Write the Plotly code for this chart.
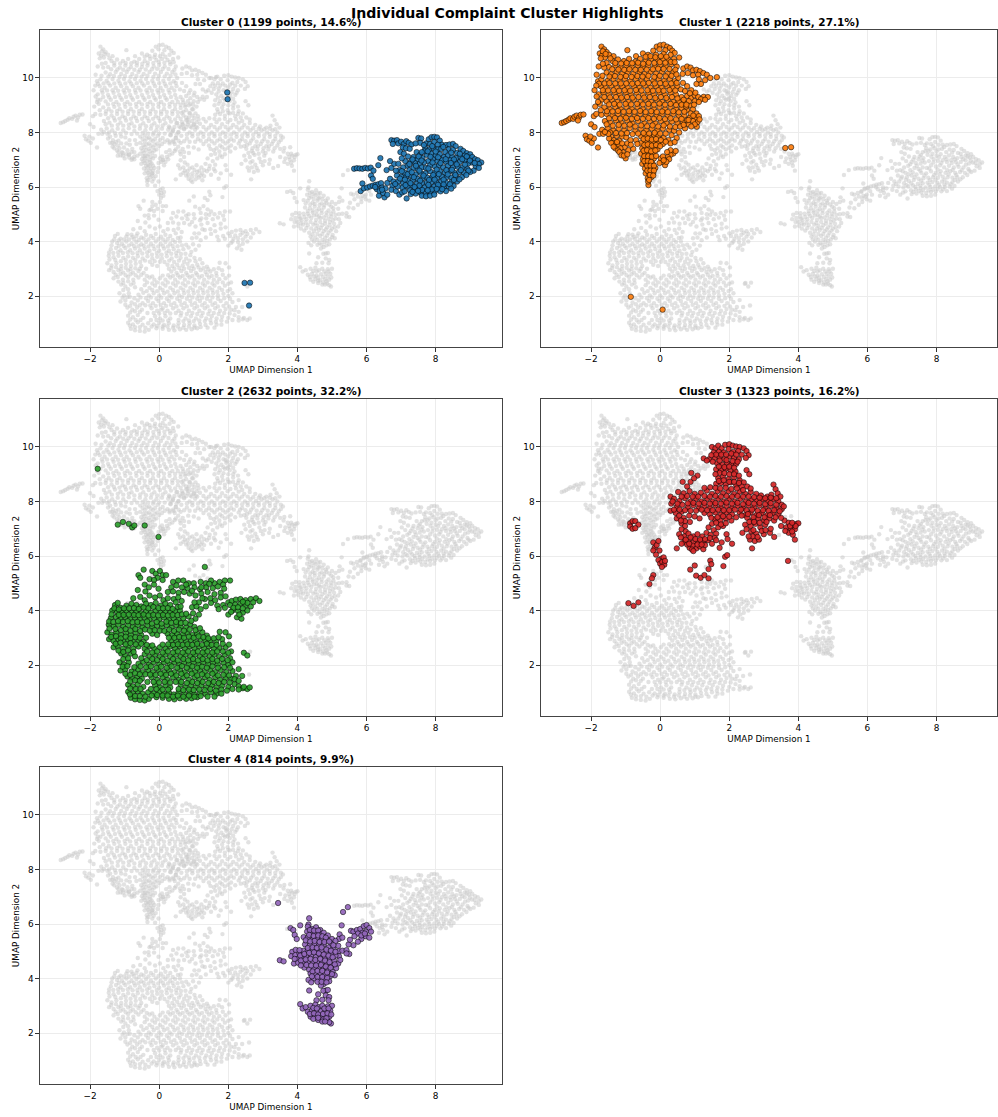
import plotly.graph_objects as go

titles = ["Cluster 0 (1199 points, 14.6%)", "Cluster 1 (2218 points, 27.1%)", "Cluster 2 (2632 points, 32.2%)",
          "Cluster 3 (1323 points, 16.2%)", "Cluster 4 (814 points, 9.9%)"]
colors = ["#1f77b4", "#ff7f0e", "#2ca02c", "#d62728", "#9467bd"]
x_ticks = [-2, 0, 2, 4, 6, 8]
y_ticks = [2, 4, 6, 8, 10]

cluster0 = [(1.97,9.47),(1.98,9.22),(2.47,2.48),(2.63,2.49),(2.6,1.65),
(5.64,6.67),(5.72,6.69),(5.8,6.68),(5.88,6.67),(5.96,6.7),(6.04,6.68),(6.12,6.71),(6.2,6.6),(6.34,6.8),(6.4,7.06),(6.13,6.42),(6.18,6.3),
(5.83,5.85),(5.88,6.13),(5.92,5.95),(6.02,5.98),(6.1,6.02),(6.18,6.05),(6.26,6.08),(6.34,6.1),(6.42,6.14),(6.3,5.92),(6.38,5.85),(6.45,5.98),(6.36,5.68),(6.52,5.62),(6.48,5.78),(6.55,5.95),(6.6,6.15),(6.68,6.3),(6.58,6.62),(6.72,6.7),(6.8,6.85),(6.68,6.95),(6.75,6.05),(6.78,6.2),(6.72,5.9),(6.85,5.85),(6.95,5.72),(7.16,5.58),(7.03,5.8),
(6.72,7.72),(6.8,7.7),(6.88,7.72),(6.76,7.58),(6.92,7.6),(7.0,7.66),(7.08,7.58),(7.15,7.68),(7.22,7.62),(7.3,7.56),(7.05,7.45),(7.14,7.42),(7.25,7.4),(6.98,7.28),(7.08,7.22),(7.5,7.8),(7.58,7.78),(7.55,7.62),(7.42,7.6),
(7.72,7.6),(7.8,7.75),(7.88,7.83),(7.96,7.84),(8.04,7.82),(8.12,7.7),(8.18,7.55),(7.84,7.58),(7.96,7.65),(8.06,7.55),(7.7,7.42),(7.82,7.38),(7.94,7.42),(8.06,7.38),(8.16,7.4),(8.3,7.54),(8.4,7.56),(8.5,7.58),(8.58,7.5),(8.38,7.38),(8.5,7.36),(8.28,7.28),(8.62,7.25),(8.72,7.4),(8.8,7.32),(8.9,7.24),(9.0,7.2),(8.84,7.15),(8.96,7.08),(9.06,7.1),(9.14,7.02),(9.22,6.98),(9.32,6.9),(9.25,6.84),(9.16,6.76),(9.25,6.7),(9.1,6.6),(9.0,6.55),(9.05,6.9),
(7.45,7.28),(7.55,7.18),(7.36,7.1),(7.48,7.02),(7.62,7.06),(7.74,7.18),(7.88,7.22),(8.0,7.15),(8.12,7.2),(8.24,7.1),(8.36,7.16),(8.48,7.1),(8.6,7.06),(8.72,7.1),(8.84,6.98),(8.94,6.86),(8.7,6.92),(8.56,6.92),(8.42,6.98),(8.3,6.92),(8.18,6.98),(8.04,6.96),(7.92,7.02),(7.78,6.95),(7.66,6.9),(7.54,6.86),(7.4,6.88),(7.28,6.92),(7.18,6.78),(7.06,6.72),(6.95,6.62),(7.1,6.52),(7.24,6.62),(7.36,6.7),(7.48,6.66),(7.6,6.72),(7.72,6.7),(7.84,6.8),(7.98,6.75),(8.1,6.8),(8.22,6.72),(8.36,6.78),(8.5,6.72),(8.64,6.74),(8.78,6.72),(8.92,6.66),(8.82,6.52),(8.68,6.55),(8.54,6.52),(8.4,6.58),(8.26,6.52),(8.12,6.58),(7.98,6.52),(7.84,6.58),(7.7,6.5),(7.56,6.52),(7.42,6.46),(7.28,6.42),(7.14,6.36),(7.0,6.38),(6.88,6.42),(6.92,6.2),(7.06,6.14),(7.2,6.22),(7.34,6.26),(7.48,6.3),(7.62,6.32),(7.76,6.34),(7.9,6.36),(8.04,6.34),(8.18,6.38),(8.32,6.36),(8.46,6.34),(8.6,6.36),(8.76,6.36),(8.62,6.2),(8.46,6.18),(8.3,6.16),(8.16,6.2),(8.02,6.16),(7.88,6.18),(7.74,6.16),(7.6,6.14),(7.46,6.12),(7.32,6.06),(7.18,6.02),(7.04,5.98),(6.9,6.02),(7.1,5.84),(7.26,5.88),(7.4,5.92),(7.54,5.96),(7.68,5.98),(7.82,6.0),(7.96,6.02),(8.1,6.0),(8.24,6.0),(8.38,6.02),(8.52,6.04),(8.3,5.85),(8.14,5.84),(7.98,5.84),(7.84,5.82),(7.7,5.78),(7.56,5.8),(7.42,5.76),(7.28,5.74),(7.6,5.68),(7.72,5.66),(7.84,5.68),(7.96,5.72),
(7.12,6.95),(7.33,7.01),(7.51,7.12),(7.68,7.31),(7.85,7.11),(8.07,7.09),(8.29,7.02),(8.53,7.01),(8.77,7.02),(8.99,6.97),(9.13,6.88),(8.85,6.82),(8.61,6.83),(8.44,6.88),(8.14,6.88),(7.91,6.9),(7.59,6.97),(7.43,6.78),(7.24,6.84),(7.02,6.58),(6.97,6.31),(7.19,6.47),(7.31,6.54),(7.53,6.6),(7.79,6.68),(8.03,6.64),(8.31,6.62),(8.47,6.63),(8.73,6.62),(8.95,6.6),(8.89,6.44),(8.57,6.44),(8.35,6.46),(8.09,6.47),(7.93,6.44),(7.65,6.42),(7.37,6.36),(7.11,6.27),(6.83,6.11),(7.13,6.07),(7.27,6.14),(7.55,6.23),(7.81,6.26),(7.97,6.27),(8.23,6.27),(8.53,6.26),(8.69,6.28),(8.41,6.1),(8.23,6.09),(8.07,6.08),(7.79,6.08),(7.53,6.05),(7.39,6.0),(7.61,5.89),(7.89,5.91),(8.03,5.93),(8.19,5.92),(8.45,5.94),(7.33,5.82),(7.49,5.86),(7.77,5.88),(7.66,7.54),(7.9,7.5),(8.0,7.3),(8.22,7.47),(7.77,7.31),(7.6,7.28),(8.45,7.26),(8.7,7.22),(8.9,7.12),(7.2,7.12),(7.02,7.05),(6.92,6.85),(6.85,6.6),(6.45,5.9),(6.25,6.0),(6.6,5.72)]

cluster1 = [(3.62,7.43),(3.79,7.46),(-0.85,1.97),(0.07,1.5),
(-2.85,8.35),(-2.78,8.38),(-2.72,8.42),(-2.65,8.47),(-2.6,8.52),(-2.52,8.5),(-2.48,8.58),(-2.42,8.62),(-2.35,8.55),(-2.3,8.65),(-2.22,8.66),(-2.38,8.44),
(-1.92,8.6),(-2.0,8.3),(-1.9,8.2),(-2.16,7.88),(-2.12,7.75),(-2.05,7.7),(-1.98,7.62),(-1.92,7.78),(-1.8,7.45),(-2.02,7.85),(-1.76,7.95),(-1.68,8.1),
(-1.7,11.15),(-1.62,11.05),(-1.55,10.95),(-1.75,10.9),(-1.68,10.82),(-1.6,10.75),(-1.48,10.85),(-1.35,10.8),(-0.95,11.02),(-0.7,10.8),(-0.5,10.9),(-0.35,10.85),(-0.2,11.0),(-0.1,11.15),(0.0,11.2),(0.1,11.22),(0.2,11.15),(0.28,11.1),(-0.02,11.05),(0.15,11.02),(0.35,11.0),(0.42,10.92),(0.55,10.75),(0.3,10.85),(0.1,10.88),(-0.12,10.85),
(-1.55,10.55),(-1.38,10.62),(-1.22,10.68),(-1.05,10.62),(-0.9,10.7),(-0.72,10.6),(-0.58,10.7),(-0.42,10.62),(-0.26,10.7),(-0.08,10.66),(0.08,10.7),(0.24,10.66),(0.4,10.7),
(-1.48,10.4),(-1.3,10.46),(-1.14,10.38),(-0.98,10.46),(-0.82,10.4),(-0.65,10.46),(-0.5,10.4),(-0.34,10.46),(-0.16,10.42),(0.0,10.48),(0.16,10.42),(0.32,10.5),(0.48,10.42),
(0.67,10.35),(0.78,10.42),(0.88,10.38),(0.95,10.28),(1.05,10.3),(1.15,10.25),(1.25,10.18),(1.35,10.12),(1.45,10.0),(1.64,10.03),(1.1,10.12),(0.95,10.1),(0.8,10.18),(0.65,10.15),(1.3,9.92),(1.18,9.78),(1.05,9.78),(1.12,9.95),
(-1.55,10.2),(-1.42,10.14),(-1.26,10.22),(-1.1,10.15),(-0.94,10.22),(-0.78,10.15),(-0.6,10.22),(-0.45,10.15),(-0.28,10.22),(-0.12,10.16),(0.05,10.22),(0.22,10.16),(0.38,10.22),(0.52,10.0),
(-1.8,9.88),(-1.7,9.95),(-1.52,9.9),(-1.35,9.96),(-1.18,9.9),(-1.02,9.96),(-0.86,9.88),(-0.7,9.96),(-0.54,9.9),(-0.38,9.96),(-0.2,9.9),(-0.04,9.96),(0.12,9.9),(0.28,9.96),(0.42,9.88),(0.66,9.82),(0.78,9.7),(0.9,9.55),
(-1.72,9.7),(-1.58,9.64),(-1.42,9.72),(-1.26,9.64),(-1.1,9.7),(-0.94,9.64),(-0.76,9.7),(-0.6,9.64),(-0.44,9.72),(-0.28,9.64),(-0.12,9.7),(0.04,9.64),(0.2,9.7),(0.36,9.64),(0.5,9.7),
(-1.78,9.4),(-1.64,9.46),(-1.48,9.38),(-1.32,9.46),(-1.16,9.38),(-1.0,9.46),(-0.84,9.38),(-0.68,9.46),(-0.5,9.38),(-0.34,9.46),(-0.18,9.38),(-0.02,9.46),(0.14,9.38),(0.3,9.46),(0.46,9.38),(0.62,9.3),(0.78,9.34),(0.9,9.26),(1.0,9.36),(1.1,9.3),(1.26,9.31),(1.18,9.22),(1.0,9.15),
(-1.7,9.2),(-1.55,9.14),(-1.4,9.2),(-1.24,9.12),(-1.08,9.2),(-0.92,9.12),(-0.76,9.2),(-0.58,9.12),(-0.42,9.2),(-0.26,9.12),(-0.1,9.2),(0.06,9.12),(0.22,9.2),(0.38,9.12),(0.54,9.12),(0.7,9.1),(0.86,9.0),
(-1.62,8.92),(-1.46,8.86),(-1.3,8.94),(-1.14,8.86),(-0.98,8.94),(-0.82,8.86),(-0.66,8.94),(-0.5,8.86),(-0.34,8.94),(-0.18,8.86),(-0.02,8.94),(0.14,8.86),(0.3,8.94),(0.46,8.86),(0.62,8.9),(0.78,8.82),(0.95,8.85),(1.05,8.7),
(-1.85,8.68),(-1.7,8.65),(-1.55,8.68),(-1.38,8.62),(-1.22,8.68),(-1.06,8.6),(-0.9,8.68),(-0.74,8.6),(-0.58,8.68),(-0.42,8.6),(-0.26,8.68),(-0.1,8.6),(0.06,8.68),(0.22,8.6),(0.38,8.68),(0.54,8.6),(0.7,8.62),(0.86,8.55),(1.02,8.52),(1.08,8.38),(1.06,8.21),
(-1.6,8.42),(-1.44,8.36),(-1.28,8.44),(-1.12,8.36),(-0.96,8.44),(-0.8,8.34),(-0.64,8.42),(-0.46,8.34),(-0.3,8.42),(-0.14,8.34),(0.02,8.42),(0.18,8.34),(0.34,8.4),(0.5,8.34),(0.66,8.38),(0.82,8.3),
(-1.52,8.15),(-1.36,8.08),(-1.2,8.14),(-1.04,8.08),(-0.88,8.16),(-0.72,8.06),(-0.56,8.14),(-0.4,8.08),(-0.24,8.14),(-0.08,8.08),(0.08,8.14),(0.26,8.1),(0.4,8.06),
(-1.42,7.85),(-1.34,7.72),(-1.26,7.88),(-1.18,7.7),(-1.1,7.85),(-0.98,7.82),(-1.3,7.58),(-1.2,7.52),(-1.1,7.6),(-1.02,7.45),(-1.3,7.42),(-1.0,7.05),(-0.92,7.35),(-1.08,7.28),(-0.78,7.4),(-0.7,7.72),(-0.55,7.85),(-0.42,7.9),(-0.3,7.82),(-0.18,7.92),(-0.05,7.88),(0.1,7.8),(0.24,7.72),(0.3,7.6),(0.38,7.23),(0.3,7.18),(0.22,7.1),(0.14,6.8),(0.06,6.92),(0.02,7.05),(-0.02,6.88),(0.12,7.0),
(-0.55,7.62),(-0.42,7.68),(-0.3,7.6),(-0.18,7.68),(-0.06,7.6),(0.08,7.58),(-0.52,7.42),(-0.42,7.46),(-0.3,7.4),(-0.18,7.45),(-0.08,7.38),(-0.55,7.22),(-0.44,7.25),(-0.32,7.2),(-0.2,7.25),(-0.5,7.02),(-0.4,7.05),(-0.28,7.0),(-0.18,7.05),(-0.52,6.85),(-0.42,6.88),(-0.32,6.82),(-0.22,6.86),(-0.44,6.68),(-0.34,6.72),(-0.24,6.68),(-0.14,6.7),(-0.42,6.5),(-0.32,6.52),(-0.2,6.5),(-0.36,6.32),(-0.26,6.36),(-0.34,6.07),(-0.35,6.2),
(-1.66,10.98),(-1.58,10.88),(-1.72,10.72),(-1.44,10.72),(-1.3,10.55),(-1.13,10.53),(-0.97,10.55),(-0.81,10.54),(-0.64,10.56),(-0.49,10.52),(-0.33,10.56),(-0.17,10.55),(-0.01,10.58),(0.15,10.56),(0.31,10.59),(-0.42,10.78),(-0.28,10.8),(-0.14,10.76),(0.02,10.8),(0.18,10.78),(0.42,10.58),(-1.62,10.38),(-1.39,10.32),(-1.21,10.31),(-1.04,10.3),(-0.89,10.32),(-0.72,10.3),(-0.56,10.3),(-0.39,10.31),(-0.21,10.32),(-0.06,10.34),(0.1,10.33),(0.27,10.33),(0.44,10.3),
(-1.67,10.08),(-1.47,10.05),(-1.31,10.07),(-1.15,10.04),(-0.99,10.07),(-0.83,10.04),(-0.66,10.07),(-0.51,10.05),(-0.34,10.08),(-0.17,10.04),(-0.01,10.08),(0.16,10.06),(0.33,10.08),(0.47,10.13),
(-1.77,9.79),(-1.61,9.8),(-1.47,9.81),(-1.3,9.8),(-1.14,9.8),(-0.98,9.8),(-0.81,9.79),(-0.65,9.81),(-0.49,9.8),(-0.33,9.82),(-0.16,9.8),(0.0,9.81),(0.16,9.79),(0.32,9.8),(0.48,9.82),(0.6,9.58),(0.72,9.52),(0.44,9.54),
(-1.66,9.55),(-1.51,9.54),(-1.35,9.55),(-1.19,9.53),(-1.03,9.55),(-0.87,9.53),(-0.7,9.56),(-0.54,9.54),(-0.37,9.55),(-0.21,9.53),(-0.05,9.55),(0.1,9.53),(0.27,9.56),
(-1.62,9.3),(-1.45,9.29),(-1.28,9.3),(-1.12,9.28),(-0.96,9.3),(-0.8,9.28),(-0.63,9.3),(-0.46,9.28),(-0.3,9.3),(-0.14,9.27),(0.02,9.3),(0.18,9.27),(0.34,9.3),(0.5,9.25),(0.68,9.2),(0.83,9.15),
(-1.75,9.05),(-1.48,9.03),(-1.33,9.05),(-1.17,9.02),(-1.0,9.05),(-0.84,9.03),(-0.67,9.05),(-0.5,9.03),(-0.34,9.05),(-0.18,9.02),(-0.02,9.06),(0.14,9.02),(0.3,9.05),(0.46,9.01),(0.62,9.02),(0.75,8.95),
(-1.54,8.78),(-1.38,8.77),(-1.22,8.79),(-1.06,8.76),(-0.9,8.78),(-0.74,8.76),(-0.58,8.79),(-0.42,8.75),(-0.26,8.78),(-0.1,8.75),(0.06,8.77),(0.22,8.75),(0.38,8.78),(0.54,8.74),(0.7,8.76),(0.88,8.7),
(-1.48,8.52),(-1.31,8.53),(-1.15,8.51),(-0.99,8.54),(-0.82,8.5),(-0.67,8.53),(-0.5,8.5),(-0.34,8.53),(-0.18,8.5),(-0.02,8.53),(0.14,8.49),(0.3,8.52),(0.46,8.48),(0.62,8.5),(0.78,8.45),(0.95,8.42),
(-1.55,8.3),(-1.37,8.25),(-1.2,8.28),(-1.04,8.25),(-0.88,8.29),(-0.72,8.22),(-0.55,8.26),(-0.38,8.23),(-0.22,8.26),(-0.06,8.22),(0.1,8.26),(0.28,8.22),(0.44,8.2),(0.58,8.22),(0.72,8.15),
(-1.45,8.0),(-1.28,7.98),(-1.12,7.96),(-0.96,7.98),(-0.8,7.94),(-0.64,7.96),(-0.48,7.98),(-0.32,7.96),(-0.16,7.99),(0.0,7.96),(0.16,7.96),(0.33,7.9),(-1.36,7.62),(-1.25,7.65),(-1.15,7.42),(-1.22,7.34),(-0.95,7.6),(-0.86,7.72),(-0.66,7.58),
(-0.48,7.76),(-0.36,7.78),(-0.24,7.74),(-0.12,7.76),(0.02,7.72),(0.16,7.66),(-0.46,7.54),(-0.36,7.56),(-0.24,7.52),(-0.12,7.54),(0.0,7.5),(-0.48,7.33),(-0.38,7.35),(-0.26,7.31),(-0.14,7.34),(-0.46,7.13),(-0.35,7.13),(-0.24,7.11),(-0.12,7.14),(-0.46,6.95),(-0.36,6.95),(-0.26,6.92),(-0.38,6.78),(-0.28,6.78),(-0.18,6.78),(-0.37,6.6),(-0.28,6.6),(-0.18,6.6),(-0.3,6.44),(-0.2,6.42),(-0.32,6.26),(0.26,7.02),(0.18,6.92),(0.08,7.12),
(-1.85,9.72),(-1.9,9.55),(-1.84,9.32),(-1.8,9.12),(-1.88,8.95),(-1.72,8.82),(-1.78,10.42),(-1.66,10.52),(-1.84,10.12),(-1.42,7.62),(-1.48,7.78),(-1.5,7.95),(-1.35,7.48),(-1.18,7.28),(-1.12,7.16),(-1.05,7.15),(-0.95,7.2),(-0.85,7.55),(-1.65,7.95),(-1.6,8.02),
(0.68,8.28),(0.82,8.46),(0.96,8.62),(1.12,8.6),(1.0,8.3),(0.9,8.22),(1.14,8.48),(0.76,9.02),(0.98,9.02),(1.12,9.12),(0.86,9.44),(1.02,9.46),(1.38,9.3),(1.3,9.2),(0.55,8.0),(0.48,7.8),(0.42,7.65),(0.3,7.35),(0.45,7.32),(0.2,7.28),(0.1,6.98)]

cluster2 = [(-1.78,9.2),(-1.2,7.15),(-1.05,7.25),(-0.88,7.18),(-0.78,7.05),(-0.72,7.12),(-0.42,7.12),(-0.02,6.7),
(-0.6,5.3),(-0.55,5.2),(-0.45,5.5),(-0.2,5.45),(-0.1,5.35),(0.02,5.45),(0.1,5.3),(0.2,5.3),(-0.05,5.2),(1.32,5.6),(-0.28,5.15),(-0.15,5.12),(0.1,5.12),
(0.4,5.05),(0.55,5.1),(0.7,5.1),(0.85,5.0),(1.0,5.0),(1.2,5.05),(1.35,5.0),(1.6,5.0),(1.75,5.05),(1.9,5.1),(2.05,5.1),(1.5,5.1),
(0.35,4.85),(0.5,4.92),(0.66,4.85),(0.82,4.82),(1.02,4.85),(1.18,4.78),(1.36,4.85),(1.55,4.82),(1.7,4.88),(1.85,4.95),(-0.42,4.95),(-0.3,4.85),(-0.15,4.95),(-0.02,4.8),(-0.62,4.75),(-0.4,4.7),
(0.25,4.68),(0.4,4.7),(0.56,4.65),(0.72,4.68),(0.88,4.62),(1.05,4.55),(1.22,4.62),(1.4,4.68),(1.6,4.6),(1.78,4.65),(-0.75,4.45),(-0.55,4.5),(-0.42,4.38),(-0.28,4.55),(-0.12,4.48),(0.02,4.55),(0.12,4.38),(0.25,4.45),(0.42,4.42),(0.55,4.48),(1.15,4.3),(1.32,4.42),(1.78,4.48),
(-1.28,4.2),(-1.2,4.28),(-1.12,4.1),(-0.95,4.18),(-0.8,4.25),(-0.66,4.2),(-0.52,4.15),(-0.38,4.25),(-0.24,4.2),(-0.1,4.28),(0.05,4.18),(0.18,4.25),(0.32,4.2),(0.48,4.3),(0.95,4.12),(1.08,4.15),(1.2,4.05),(1.35,4.15),(1.5,4.28),(1.68,4.18),(1.85,4.2),(2.0,4.3),(2.1,4.35),(2.22,4.4),(2.35,4.42),(2.5,4.38),(2.65,4.42),(2.8,4.45),(2.9,4.35),
(-1.36,4.0),(-1.22,3.95),(-1.08,3.92),(-0.95,4.0),(-0.8,3.92),(-0.66,3.98),(-0.52,3.9),(-0.38,3.98),(-0.24,3.92),(-0.1,4.0),(0.04,3.92),(0.18,3.98),(0.32,3.92),(0.46,3.98),(0.6,4.0),(0.98,3.9),(1.15,3.85),(1.72,4.05),(1.9,4.1),(2.05,4.2),(2.2,4.22),(2.35,4.25),(2.5,4.18),(2.65,4.15),
(-1.4,3.72),(-1.25,3.76),(-1.12,3.68),(-0.98,3.76),(-0.84,3.68),(-0.7,3.74),(-0.56,3.68),(-0.42,3.74),(-0.28,3.66),(-0.14,3.72),(0.0,3.66),(0.14,3.74),(0.28,3.66),(0.42,3.72),(0.56,3.66),(0.7,3.72),(0.85,3.78),(1.05,3.7),(2.0,3.85),(2.12,4.0),(2.28,3.98),(2.42,3.92),(2.55,4.0),(2.25,3.75),(2.38,3.7),
(-1.46,3.48),(-1.32,3.42),(-1.18,3.48),(-1.04,3.4),(-0.9,3.46),(-0.76,3.4),(-0.62,3.46),(-0.48,3.38),(-0.34,3.46),(-0.2,3.38),(-0.06,3.44),(0.08,3.38),(0.22,3.46),(0.36,3.38),(0.5,3.46),(0.62,3.4),(0.78,3.38),(0.9,3.5),(1.02,3.4),
(-1.5,3.2),(-1.38,3.12),(-1.24,3.2),(-1.1,3.1),(-0.96,3.18),(-0.82,3.1),(-0.68,3.18),(-0.52,3.1),(-0.2,3.15),(-0.06,3.1),(0.24,3.15),(0.38,3.1),(0.52,3.15),(0.68,3.12),(0.82,3.18),(0.96,3.1),(1.1,3.15),(1.25,3.2),(1.38,3.08),
(-1.45,2.95),(-1.32,2.88),(-1.18,2.95),(-1.04,2.86),(-0.9,2.94),(-0.76,2.86),(-0.6,2.92),(-0.45,2.85),(0.35,2.9),(0.5,2.85),(0.64,2.92),(0.78,2.85),(0.92,2.92),(1.06,2.85),(1.2,2.95),(1.34,2.88),(1.48,2.9),(1.65,2.85),(1.82,2.95),(1.92,3.2),(2.02,3.05),(1.75,3.22),
(-1.32,2.65),(-1.2,2.7),(-1.05,2.6),(-0.9,2.7),(-0.75,2.6),(-0.6,2.68),(-0.42,2.6),(-0.28,2.68),(-0.14,2.6),(0.02,2.65),(0.18,2.6),(0.32,2.68),(0.46,2.6),(0.6,2.68),(0.74,2.6),(0.88,2.68),(1.02,2.6),(1.16,2.68),(1.3,2.6),(1.44,2.68),(1.58,2.6),(1.74,2.62),(1.92,2.65),(2.08,2.5),(2.45,2.45),(2.55,2.35),
(-1.1,2.42),(-0.98,2.35),(-0.82,2.42),(-0.7,2.32),(-0.42,2.4),(-0.28,2.3),(-0.12,2.38),(0.02,2.3),(0.18,2.38),(0.32,2.3),(0.48,2.38),(0.62,2.3),(0.76,2.38),(0.9,2.3),(1.04,2.38),(1.18,2.3),(1.32,2.38),(1.46,2.3),(1.6,2.38),(1.74,2.3),(1.9,2.38),(2.05,2.25),
(-1.15,2.1),(-1.02,2.02),(-0.88,2.1),(-0.6,2.05),(-0.46,2.12),(-0.3,2.02),(-0.16,2.1),(0.0,2.02),(0.14,2.1),(0.3,2.02),(0.44,2.1),(0.58,2.02),(0.72,2.1),(0.86,2.02),(1.0,2.1),(1.14,2.02),(1.28,2.1),(1.42,2.02),(1.56,2.1),(1.7,2.02),(1.86,2.08),(2.0,2.0),(2.12,2.1),
(-1.12,1.8),(-0.98,1.84),(-0.8,1.76),(-0.62,1.84),(-0.48,1.74),(-0.32,1.82),(-0.18,1.74),(-0.02,1.82),(0.14,1.74),(0.28,1.82),(0.44,1.74),(0.6,1.82),(0.74,1.74),(0.9,1.82),(1.04,1.74),(1.18,1.82),(1.32,1.74),(1.48,1.82),(1.62,1.74),(1.78,1.82),(1.94,1.74),(2.12,1.78),(2.3,1.85),
(-0.92,1.58),(-0.78,1.5),(-0.64,1.58),(-0.5,1.5),(-0.22,1.55),(-0.06,1.46),(0.1,1.55),(0.24,1.46),(0.4,1.55),(0.56,1.46),(0.7,1.55),(0.86,1.46),(1.02,1.55),(1.16,1.46),(1.32,1.55),(1.46,1.46),(1.62,1.55),(1.76,1.46),(1.92,1.52),(2.08,1.5),(2.22,1.6),(2.4,1.6),
(-0.9,1.28),(-0.76,1.22),(-0.62,1.3),(-0.46,1.2),(-0.12,1.26),(0.02,1.18),(0.18,1.26),(0.32,1.18),(0.62,1.28),(0.76,1.18),(0.92,1.26),(1.06,1.18),(1.22,1.26),(1.36,1.18),(1.52,1.26),(1.66,1.18),(1.82,1.24),(2.0,1.2),(2.18,1.3),(2.3,1.22),(2.42,1.15),(2.55,1.12),(2.62,1.18),
(-0.9,1.02),(-0.76,0.96),(-0.62,1.04),(-0.48,0.95),(-0.32,1.0),(-0.16,0.96),(0.0,1.02),(0.14,0.94),(0.28,1.0),(0.42,0.92),(0.56,1.0),(0.72,0.94),(0.88,1.0),(1.02,0.92),(1.18,0.98),(1.34,0.94),(1.5,1.0),(1.66,0.95),(2.3,1.1),(2.45,1.2),
(-0.82,0.8),(-0.7,0.74),(-0.56,0.72),(-0.42,0.7),(-0.3,0.76),(-0.08,0.82),(0.1,0.8),(0.28,0.76),(0.44,0.74),(0.6,0.78),(0.78,0.76),(0.94,0.78),(1.1,0.82),
(-1.3,4.08),(-1.17,4.04),(-1.02,4.08),(-0.87,4.08),(-0.73,4.09),(-0.59,4.06),(-0.45,4.11),(-0.31,4.08),(-0.17,4.13),(-0.02,4.09),(0.11,4.08),(0.25,4.09),(0.39,4.06),(0.54,4.13),
(-1.38,3.86),(-1.17,3.84),(-1.03,3.84),(-0.88,3.85),(-0.73,3.84),(-0.6,3.83),(-0.45,3.85),(-0.31,3.82),(-0.17,3.84),(-0.03,3.82),(0.11,3.84),(0.25,3.82),(0.39,3.84),(0.53,3.83),(0.66,3.86),(0.78,3.88),
(-1.45,3.6),(-1.33,3.58),(-1.19,3.61),(-1.05,3.58),(-0.91,3.61),(-0.77,3.57),(-0.63,3.58),(-0.49,3.56),(-0.35,3.6),(-0.21,3.52),(-0.07,3.58),(0.07,3.52),(0.21,3.59),(0.35,3.55),(0.49,3.58),(0.63,3.54),(0.76,3.55),(0.93,3.62),
(-1.44,3.34),(-1.27,3.32),(-1.11,3.28),(-0.97,3.32),(-0.83,3.26),(-0.69,3.32),(-0.55,3.25),(-0.41,3.3),(-0.27,3.26),(-0.13,3.28),(0.02,3.26),(0.15,3.25),(0.29,3.3),(0.43,3.25),(0.57,3.3),(0.72,3.26),(0.88,3.3),(1.05,3.28),(1.18,3.35),
(-1.39,3.03),(-1.25,3.06),(-1.11,2.98),(-0.97,3.04),(-0.83,2.98),(-0.69,3.02),(-0.56,3.0),(-0.38,3.0),(0.28,3.0),(0.44,3.0),(0.58,3.03),(0.72,3.0),(0.86,3.04),(1.0,3.0),(1.14,3.05),(1.28,3.02),(1.42,2.98),(1.58,2.98),(1.72,3.02),
(-1.26,2.78),(-1.12,2.82),(-0.97,2.76),(-0.83,2.8),(-0.68,2.76),(-0.52,2.78),(-0.36,2.74),(-0.2,2.72),(0.1,2.75),(0.26,2.76),(0.4,2.74),(0.54,2.76),(0.68,2.74),(0.82,2.76),(0.96,2.74),(1.1,2.78),(1.24,2.74),(1.38,2.78),(1.52,2.74),(1.66,2.74),(1.84,2.78),(2.02,2.75),
(-1.18,2.53),(-1.04,2.48),(-0.9,2.54),(-0.74,2.48),(-0.35,2.5),(-0.2,2.46),(-0.06,2.5),(0.1,2.46),(0.25,2.5),(0.4,2.46),(0.54,2.5),(0.68,2.46),(0.84,2.5),(0.98,2.46),(1.12,2.5),(1.26,2.46),(1.4,2.5),(1.54,2.46),(1.68,2.5),(1.84,2.5),(2.0,2.45),
(-1.04,2.22),(-0.9,2.25),(-0.52,2.25),(-0.36,2.18),(-0.2,2.22),(-0.06,2.18),(0.1,2.22),(0.24,2.16),(0.4,2.22),(0.54,2.17),(0.7,2.22),(0.84,2.17),(0.98,2.22),(1.12,2.17),(1.26,2.22),(1.4,2.17),(1.54,2.22),(1.68,2.16),(1.82,2.22),(1.98,2.18),
(-1.06,1.94),(-0.92,1.96),(-0.72,1.92),(-0.54,1.95),(-0.38,1.92),(-0.24,1.95),(-0.08,1.9),(0.06,1.94),(0.22,1.9),(0.36,1.95),(0.52,1.9),(0.66,1.96),(0.8,1.9),(0.96,1.95),(1.1,1.9),(1.24,1.94),(1.38,1.9),(1.54,1.95),(1.7,1.9),(1.88,1.92),(2.05,1.9),
(-0.98,1.68),(-0.84,1.64),(-0.7,1.7),(-0.56,1.66),(-0.4,1.66),(-0.26,1.65),(-0.1,1.64),(0.04,1.68),(0.2,1.64),(0.34,1.68),(0.5,1.62),(0.64,1.68),(0.8,1.62),(0.94,1.68),(1.1,1.62),(1.24,1.66),(1.4,1.62),(1.54,1.68),(1.7,1.62),(1.86,1.64),(2.02,1.62),(2.18,1.48),
(-0.84,1.4),(-0.7,1.44),(-0.56,1.42),(-0.34,1.38),(-0.16,1.38),(0.0,1.36),(0.16,1.38),(0.32,1.36),(0.48,1.38),(0.64,1.38),(0.8,1.34),(0.96,1.38),(1.1,1.34),(1.26,1.38),(1.42,1.34),(1.58,1.38),(1.72,1.34),(1.88,1.38),(2.04,1.36),(2.3,1.42),
(-0.84,1.14),(-0.68,1.12),(-0.54,1.12),(-0.24,1.12),(-0.08,1.12),(0.1,1.1),(0.26,1.1),(0.56,1.12),(0.7,1.08),(0.86,1.1),(1.0,1.08),(1.16,1.1),(1.32,1.08),(1.48,1.12),(1.64,1.06),(1.8,1.1),(1.96,1.06),(2.12,1.12),
(-0.85,0.92),(-0.7,0.86),(-0.56,0.86),(-0.4,0.84),(-0.22,0.88),(-0.06,0.9),(0.1,0.88),(0.24,0.88),(0.4,0.84),(0.54,0.88),(0.7,0.84),(0.86,0.88),(1.02,0.84),(1.2,0.86),(1.4,0.84),(1.6,0.84),(1.8,0.95),
(2.15,4.1),(2.28,4.12),(2.42,4.08),(2.55,4.28),(2.72,4.3),(2.42,4.32),(2.08,3.95),(2.32,3.85),(0.65,4.35),(0.62,4.15),(1.48,4.45),(1.62,4.38),(1.92,4.52),(1.22,4.85),(0.95,4.72),(0.78,4.95),(1.88,4.8),(1.45,4.98),(1.25,4.45),(1.02,4.3)]

cluster3 = [(-0.87,7.2),(-0.8,7.28),(-0.72,7.28),(-0.63,7.15),(-0.87,7.08),(-0.8,7.0),(-0.72,7.02),(-0.2,6.5),(-0.16,6.3),(-0.1,6.4),(-0.05,6.55),(-0.2,6.2),(-0.12,6.05),(-0.02,6.2),(0.03,5.9),(0.1,5.95),(-0.05,5.85),(0.0,5.72),(0.06,5.78),(0.12,5.68),(0.14,5.82),(0.05,5.6),(-0.2,5.3),(-0.24,5.18),(-0.31,4.97),(-0.92,4.27),(-0.77,4.17),(-0.63,4.3),(0.87,5.5),(1.0,5.65),(1.04,5.28),(1.17,5.2),(1.28,5.3),(1.4,5.18),(1.4,5.52),(1.45,5.83),(1.48,5.7),(1.83,5.63),(1.88,5.97),(1.94,6.03),(2.66,6.28),(3.7,5.82),
(1.5,10.0),(1.6,9.95),(1.68,10.05),(1.78,9.95),(1.88,10.08),(2.0,10.1),(2.1,10.05),(2.2,10.02),(2.3,10.0),(2.42,9.95),(2.5,9.85),(2.56,9.7),(1.42,9.55),(1.55,9.8),(1.7,9.82),(1.84,9.8),(1.98,9.92),(2.12,9.82),(2.26,9.85),(2.36,9.72),(2.48,9.6),(1.26,9.58),(1.35,9.5),(1.58,9.6),(1.72,9.62),(1.86,9.55),(2.0,9.65),(2.14,9.6),(2.28,9.55),(1.65,9.4),(1.8,9.35),(1.94,9.42),(2.06,9.35),(2.2,9.38),(1.62,9.18),(1.76,9.15),(1.9,9.2),(2.04,9.15),(2.18,9.1),(2.5,9.15),(2.58,9.0),
(0.9,9.05),(1.08,8.95),(0.88,8.72),(0.98,8.85),(0.65,8.72),(0.78,8.55),(1.68,8.85),(1.82,8.92),(1.98,8.82),(2.14,8.88),(2.3,8.78),(2.42,8.7),(1.62,8.65),(1.76,8.68),(1.9,8.62),(2.04,8.7),(2.2,8.6),(2.36,8.55),(2.52,8.55),(3.28,8.62),(3.34,8.45),(3.4,8.3),(3.48,8.18),
(0.3,8.18),(0.52,8.35),(0.68,8.3),(0.85,8.38),(1.0,8.28),(1.18,8.32),(1.35,8.4),(1.5,8.28),(1.66,8.38),(1.82,8.3),(1.98,8.38),(2.14,8.28),(2.3,8.36),(2.46,8.28),(2.62,8.35),(2.78,8.28),(2.92,8.22),(3.1,8.18),(3.22,8.25),
(0.4,8.1),(0.56,8.02),(0.72,8.12),(0.88,8.0),(1.04,8.1),(1.2,8.0),(1.36,8.1),(1.52,8.0),(1.68,8.1),(1.84,8.0),(2.0,8.1),(2.16,8.0),(2.32,8.1),(2.48,8.0),(2.64,8.08),(2.8,8.02),(2.96,8.08),(3.12,8.0),(3.28,8.08),(3.42,8.0),(3.52,7.88),
(0.32,7.92),(0.48,7.8),(0.64,7.88),(0.8,7.78),(0.96,7.86),(1.12,7.76),(1.28,7.84),(1.44,7.76),(1.6,7.86),(1.76,7.76),(1.92,7.84),(2.08,7.76),(2.24,7.84),(2.4,7.76),(2.56,7.86),(2.72,7.78),(2.88,7.86),(3.04,7.76),(3.2,7.84),(3.36,7.76),(3.52,7.72),(3.58,7.82),
(0.3,7.66),(0.45,7.58),(0.62,7.62),(1.28,7.58),(1.44,7.52),(1.6,7.6),(1.76,7.52),(1.92,7.6),(2.08,7.52),(2.3,7.6),(2.46,7.5),(2.62,7.6),(2.78,7.5),(2.94,7.58),(3.1,7.5),(3.26,7.58),(3.42,7.52),
(0.48,7.38),(0.68,7.4),(0.84,7.48),(1.0,7.45),(1.14,7.38),(1.58,7.35),(1.74,7.3),(1.9,7.38),(2.06,7.3),(2.52,7.4),(2.68,7.32),(2.84,7.38),(3.0,7.3),(3.16,7.38),(3.3,7.3),(3.6,7.3),(3.72,7.22),(3.85,7.15),(3.95,7.18),(4.0,7.2),
(0.62,7.2),(0.72,7.1),(0.62,6.98),(0.74,6.9),(0.86,7.25),(1.5,7.18),(1.4,7.05),(1.55,6.95),(1.68,7.05),(1.82,7.1),(2.46,7.15),(2.62,7.1),(2.76,7.18),(2.9,7.05),(3.04,7.15),(3.5,7.1),(3.65,7.05),(3.78,7.0),(3.9,6.98),
(0.55,6.8),(0.7,6.72),(0.82,6.82),(0.96,6.72),(1.08,6.8),(1.22,6.72),(1.34,6.85),(1.46,6.78),(1.62,6.82),(1.92,6.8),(2.38,6.85),(2.5,6.98),(2.64,6.9),(2.78,6.82),(3.0,6.8),(3.18,6.85),(3.3,6.7),(3.72,6.85),(3.84,6.78),(3.9,6.6),(3.62,6.92),
(0.7,6.52),(0.82,6.58),(0.96,6.5),(1.1,6.55),(1.24,6.5),(1.38,6.58),(1.5,6.45),(1.78,6.5),(1.95,6.62),(2.08,6.45),(2.6,6.6),(2.68,6.72),(2.74,6.55),(2.86,6.6),
(0.85,6.3),(0.95,6.38),(1.05,6.28),(1.15,6.35),(1.25,6.25),(1.3,6.4),(0.48,6.28),(1.72,6.3),(0.78,6.42),
(1.62,9.72),(1.77,9.72),(1.91,9.72),(2.06,9.76),(2.2,9.72),(1.48,9.7),(1.52,9.46),(1.72,9.5),(1.92,9.52),(2.1,9.48),(2.24,9.46),(1.7,9.28),(1.86,9.26),(2.0,9.28),(2.14,9.24),(1.72,9.05),(1.86,9.04),(2.0,9.0),(2.14,9.0),(2.28,8.95),(1.6,9.0),(1.7,8.75),(1.84,8.78),(2.0,8.72),(2.14,8.72),(2.28,8.68),
(1.28,8.5),(1.45,8.52),(1.6,8.5),(1.74,8.48),(1.9,8.5),(2.06,8.46),(2.22,8.48),(2.4,8.42),(2.62,8.48),(0.62,8.18),(0.78,8.2),(0.94,8.18),(1.1,8.18),(1.28,8.2),(1.44,8.18),(1.6,8.2),(1.76,8.18),(1.92,8.2),(2.08,8.18),(2.24,8.2),(2.4,8.18),(2.56,8.18),(2.72,8.16),(2.88,8.14),(3.04,8.12),(3.2,8.14),(3.36,8.12),
(0.36,8.0),(0.5,7.92),(0.8,7.93),(0.96,7.95),(1.12,7.92),(1.28,7.95),(1.44,7.92),(1.6,7.94),(1.76,7.92),(1.92,7.96),(2.08,7.92),(2.24,7.95),(2.4,7.9),(2.56,7.95),(2.72,7.92),(2.88,7.95),(3.04,7.9),(3.2,7.94),(3.36,7.88),
(0.4,7.7),(0.56,7.7),(0.72,7.68),(0.88,7.66),(1.04,7.66),(1.2,7.7),(1.36,7.68),(1.52,7.68),(1.68,7.7),(1.84,7.68),(2.0,7.68),(2.16,7.7),(2.34,7.7),(2.5,7.68),(2.66,7.7),(2.82,7.66),(2.98,7.68),(3.14,7.66),(3.3,7.68),(3.46,7.64),
(2.2,7.42),(2.36,7.48),(2.54,7.54),(2.7,7.42),(2.86,7.5),(3.02,7.42),(3.18,7.5),(3.34,7.42),(3.5,7.4),(1.66,7.42),(1.82,7.46),(2.0,7.44),(0.55,7.48),(0.72,7.28),(0.6,7.3),(1.48,7.4),(1.62,7.22),(1.76,7.16),(1.9,7.2),(2.58,7.25),(2.72,7.25),(2.88,7.22),(3.08,7.25),
(0.6,6.68),(0.74,6.6),(0.88,6.68),(1.02,6.62),(1.16,6.6),(1.3,6.62),(1.44,6.66),(1.58,6.66),(2.7,6.95),(2.56,6.72),(2.82,6.7),(2.94,6.92),(3.05,6.95),(3.2,7.0),(3.82,6.9),(0.92,6.24),(1.08,6.42),(0.84,6.45),(1.2,6.42),(0.62,6.45),(1.62,6.58),(3.92,7.1),(3.76,7.1),(3.82,7.22),(0.96,6.18)]

cluster4 = [(3.44,6.77),(5.32,6.44),(5.46,6.62),(4.34,6.21),(4.08,5.95),(3.8,5.85),(3.88,5.78),(4.32,5.98),(3.92,5.6),(3.98,5.45),(5.28,5.95),(5.22,5.62),(5.2,5.45),(5.3,5.5),(3.49,4.67),(3.6,4.63),
(5.55,5.75),(5.62,5.72),(5.72,5.78),(5.82,5.82),(5.92,5.92),(6.0,5.96),(6.08,5.85),(6.13,5.72),(5.98,5.72),(5.88,5.68),(5.98,5.55),(6.08,5.5),(5.85,5.45),(5.75,5.35),(5.62,5.22),(5.48,5.25),(5.52,5.42),
(4.3,5.9),(4.42,5.82),(4.54,5.88),(4.66,5.78),(4.28,5.72),(4.4,5.65),(4.52,5.7),(4.64,5.62),(4.76,5.68),(4.88,5.58),(5.0,5.45),(4.18,5.52),(4.3,5.5),(4.44,5.42),(4.58,5.5),(4.7,5.4),(4.84,5.42),(4.98,5.28),(5.1,5.38),(5.18,5.2),(4.22,5.25),(4.36,5.22),(4.5,5.28),(4.62,5.2),(4.76,5.25),(4.9,5.14),(5.04,5.1),(5.2,5.0),(5.3,5.02),(5.42,5.04),(5.5,4.9),(5.42,4.92),(5.2,4.82),
(3.85,4.98),(3.95,5.05),(3.82,4.82),(3.94,4.86),(4.06,4.92),(4.18,5.02),(4.3,5.02),(4.44,5.06),(4.56,4.98),(4.7,5.04),(4.84,4.96),(4.98,4.92),(5.1,4.84),(4.0,4.72),(4.12,4.78),(4.26,4.82),(4.4,4.86),(4.54,4.8),(4.66,4.86),(4.8,4.76),(4.94,4.72),(5.06,4.65),(5.18,4.55),(5.24,4.68),
(3.9,4.55),(4.02,4.58),(4.16,4.62),(4.3,4.6),(4.46,4.62),(4.58,4.58),(4.72,4.6),(4.86,4.52),(5.0,4.48),(5.12,4.38),(4.2,4.4),(4.34,4.32),(4.48,4.38),(4.62,4.42),(4.76,4.38),(4.9,4.32),(5.02,4.24),(4.38,4.18),(4.52,4.15),(4.66,4.2),(4.8,4.14),(4.94,4.08),(5.08,4.12),(4.32,3.95),(4.48,4.0),(4.64,3.95),(4.78,3.98),(4.92,3.9),(4.76,3.8),(4.68,3.74),
(4.34,3.56),(4.82,3.56),(4.75,3.55),(4.88,3.58),(4.6,3.42),(4.82,3.38),(4.92,3.32),(4.55,3.2),(4.72,3.22),(4.9,3.2),(4.08,3.06),(4.15,2.9),(4.24,2.95),(4.38,3.0),(4.52,3.04),(4.62,2.95),(4.72,3.0),(4.88,2.98),(5.0,3.0),(4.3,2.78),(4.42,2.82),(4.55,2.75),(4.68,2.8),(4.82,2.82),(4.95,2.82),(4.38,2.6),(4.52,2.62),(4.66,2.58),(4.8,2.62),(4.92,2.6),(4.6,2.48),(4.74,2.5),(4.86,2.46),(4.97,2.35),(4.92,2.4),
(4.36,5.78),(4.48,5.76),(4.6,5.76),(4.34,5.6),(4.47,5.56),(4.6,5.58),(4.72,5.55),(4.82,5.5),(4.24,5.4),(4.37,5.36),(4.5,5.38),(4.64,5.34),(4.78,5.34),(4.92,5.36),(5.04,5.22),(4.3,5.12),(4.44,5.14),(4.56,5.12),(4.7,5.14),(4.84,5.06),(4.97,5.02),(5.1,4.98),(4.06,5.04),(3.92,4.72),(4.08,4.84),(4.2,4.9),(4.34,4.94),(4.48,4.96),(4.62,4.92),(4.76,4.88),(4.9,4.84),(5.02,4.78),(4.1,4.66),(4.24,4.7),(4.38,4.72),(4.52,4.68),(4.66,4.72),(4.8,4.66),(4.93,4.6),(5.08,4.52),(4.1,4.48),(4.26,4.5),(4.4,4.48),(4.54,4.48),(4.68,4.5),(4.82,4.44),(4.96,4.4),(4.44,4.26),(4.58,4.28),(4.72,4.28),(4.86,4.22),(5.0,4.16),(4.42,4.08),(4.58,4.06),(4.72,4.06),(4.86,4.02),(4.4,3.86),(4.58,3.88),(4.7,3.88),(4.84,3.86),
(4.46,2.92),(4.56,2.9),(4.78,2.9),(4.9,2.9),(4.36,2.7),(4.48,2.72),(4.6,2.68),(4.74,2.7),(4.87,2.72),(4.98,2.68),(4.46,2.52),(4.6,2.56),(4.72,2.42),(4.84,2.54),(4.8,2.42),(5.75,5.65),(5.65,5.55),(5.85,5.58),(5.95,5.65)]

clusters = [cluster0, cluster1, cluster2, cluster3, cluster4]
all_points = [p for c in clusters for p in c]

W, H = 998, 1117
panels = [(40, 502, 30, 347), (541, 997, 30, 347), (40, 502, 399, 716), (541, 997, 399, 716), (40, 502, 767, 1084)]
x_ranges = [[-3.45, 9.92], [-3.45, 9.75], [-3.45, 9.92], [-3.45, 9.75], [-3.45, 9.92]]
y_range = [0.13, 11.76]

fig = go.Figure()
layout = {}
annotations = []
text_col = "#000000"
for i, (l, r, t, b) in enumerate(panels):
    s = "" if i == 0 else str(i + 1)
    axis = dict(showline=True, mirror=True, linecolor="#444444", linewidth=1.2, showgrid=True, gridcolor="#ececec",
                gridwidth=1, zeroline=False, ticks="outside", ticklen=3.5, tickwidth=1, tickcolor="#333333",
                tickfont=dict(family="DejaVu Sans", size=8.9, color=text_col))
    layout["xaxis" + s] = dict(axis, domain=[l / W, r / W], range=x_ranges[i], tickvals=x_ticks, anchor="y" + s,
                               title=dict(text="UMAP Dimension 1", standoff=3, font=dict(family="DejaVu Sans", size=8.8, color=text_col)))
    layout["yaxis" + s] = dict(axis, domain=[1 - b / H, 1 - t / H], range=y_range, tickvals=y_ticks, anchor="x" + s,
                               title=dict(text="UMAP Dimension 2", standoff=1, font=dict(family="DejaVu Sans", size=8.8, color=text_col)))
    fig.add_trace(go.Scatter(x=[p[0] for p in all_points], y=[p[1] for p in all_points], mode="markers", xaxis="x" + s, yaxis="y" + s,
                             showlegend=False, hoverinfo="skip",
                             marker=dict(size=4.4, color="#cbcbcb", opacity=0.55, line=dict(width=0))))
    fig.add_trace(go.Scatter(x=[p[0] for p in clusters[i]], y=[p[1] for p in clusters[i]], mode="markers", xaxis="x" + s, yaxis="y" + s,
                             showlegend=False,
                             marker=dict(size=5.4, color=colors[i], opacity=0.92, line=dict(width=0.6, color="#000000"))))
    annotations.append(dict(text="<b>" + titles[i] + "</b>", x=(l + r) / 2 / W, y=1 - (t - 8) / H, xref="paper", yref="paper",
                            showarrow=False, xanchor="center", yanchor="middle",
                            font=dict(family="DejaVu Sans", size=10.5, color=text_col)))
annotations.append(dict(text="<b>Individual Complaint Cluster Highlights</b>", x=507 / W, y=1 - 13 / H, xref="paper", yref="paper",
                        showarrow=False, xanchor="center", yanchor="middle",
                        font=dict(family="DejaVu Sans", size=14.1, color=text_col)))
fig.update_layout(width=W, height=H, margin=dict(l=0, r=0, t=0, b=0), paper_bgcolor="white", plot_bgcolor="white",
                  annotations=annotations, **layout)
fig.write_html("out.html", config={"displayModeBar": False},
               post_script="document.body.style.margin='0';document.body.style.overflow='hidden';")
